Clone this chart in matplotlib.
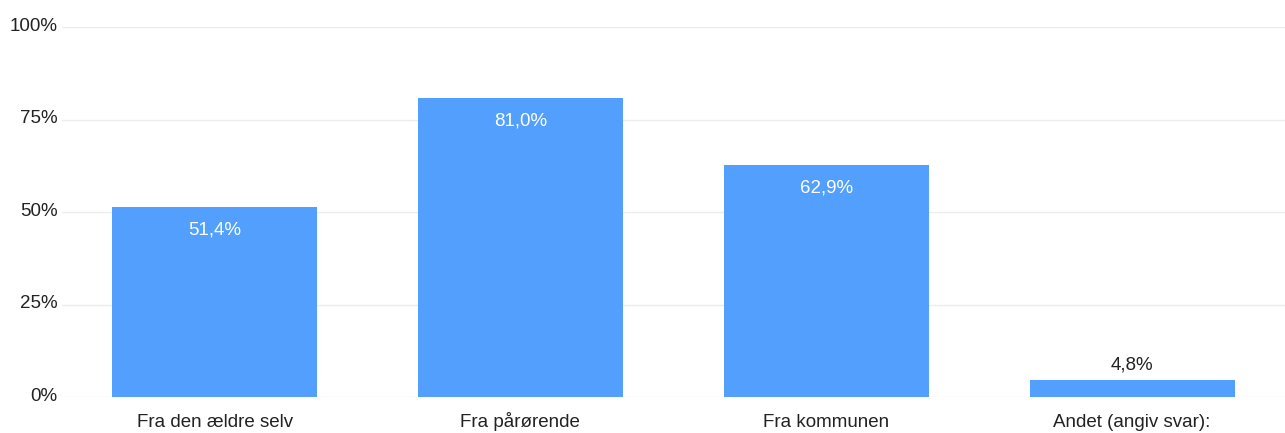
import matplotlib.pyplot as plt
import matplotlib.transforms as mtransforms
from matplotlib.ticker import FixedLocator

plt.rcParams['font.family'] = ['Liberation Sans', 'DejaVu Sans']

# Data
categories = ["Fra den ældre selv", "Fra pårørende", "Fra kommunen", "Andet (angiv svar):"]
values = [51.4, 81.0, 62.9, 4.8]
value_labels = ["51,4%", "81,0%", "62,9%", "4,8%"]
yticks = [0, 25, 50, 75, 100]
ytick_labels = ["0%", "25%", "50%", "75%", "100%"]

bar_color = "#529ffe"
text_color = "#222222"
fs = 13.5

fig = plt.figure(figsize=(12.85, 4.33), dpi=100)
ax = fig.add_axes([0.048, 0.082, 0.952, 0.855])

x = range(len(categories))
bars = ax.bar(x, values, width=0.67, color=bar_color, zorder=2)

for xi, v, lab in zip(x, values, value_labels):
    if v > 10:
        ax.annotate(lab, (xi, v), xytext=(0, -16.5), textcoords="offset points",
                    ha="center", va="center", color="white", fontsize=fs)
    else:
        ax.annotate(lab, (xi, v), xytext=(0, 10.5), textcoords="offset points",
                    ha="center", va="center", color=text_color, fontsize=fs)

ax.set_xlim(-0.5, len(categories) - 0.5)
ax.set_ylim(0, 100)
ax.yaxis.set_major_locator(FixedLocator(yticks))
ax.set_yticklabels(ytick_labels)
ax.set_xticks(list(x))
ax.set_xticklabels(categories)
ax.tick_params(axis="both", length=0, labelsize=fs, colors=text_color)
ax.tick_params(axis="y", pad=3)
ax.tick_params(axis="x", pad=21)
for lbl in ax.get_xticklabels():
    lbl.set_va("baseline")
# y labels sit a little above their gridlines
shift = mtransforms.ScaledTranslation(0, 3 / 100, fig.dpi_scale_trans)
for lbl in ax.get_yticklabels():
    lbl.set_transform(lbl.get_transform() + shift)
ax.grid(axis="y", color="#ececec", linewidth=1, zorder=0)
for s in ax.spines.values():
    s.set_visible(False)

fig.savefig("out.png", dpi=100)
